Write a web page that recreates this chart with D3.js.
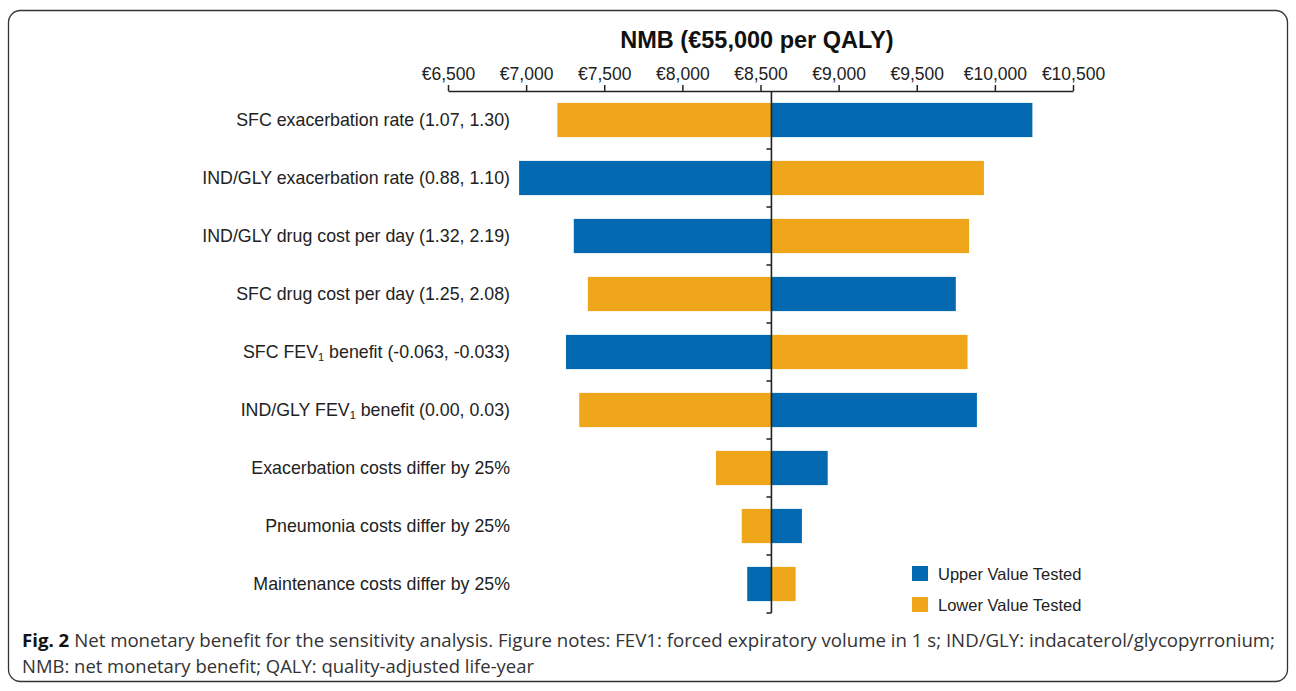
<!DOCTYPE html>
<html>
<head>
<meta charset="utf-8">
<script src="https://cdn.jsdelivr.net/npm/d3@7"></script>
<style>
  body { margin: 0; background: #fff; }
  svg { display: block; }
</style>
</head>
<body>
<script>
// tornado chart data
var categories = [
    "SFC exacerbation rate (1.07, 1.30)",
    "IND/GLY exacerbation rate (0.88, 1.10)",
    "IND/GLY drug cost per day (1.32, 2.19)",
    "SFC drug cost per day (1.25, 2.08)",
    "SFC FEV1 benefit (-0.063, -0.033)",
    "IND/GLY FEV1 benefit (0.00, 0.03)",
    "Exacerbation costs differ by 25%",
    "Pneumonia costs differ by 25%",
    "Maintenance costs differ by 25%"
];
var upperValues = [10240, 6955, 7305, 9750, 7255, 9885, 8930, 8765, 8415];
var lowerValues = [7200, 9930, 9835, 7395, 9825, 7340, 8215, 8380, 8725];
var baseValue = 8570;
var tickValues = [6500, 7000, 7500, 8000, 8500, 9000, 9500, 10000, 10500];
var seriesNames = ["Upper Value Tested", "Lower Value Tested"];

var blue = "#036ab2";
var orange = "#efa61b";
var sans = "'Liberation Sans', Arial, Helvetica, sans-serif";

var width = 1296, height = 691;

var svg = d3.select("body").append("svg")
    .attr("width", width)
    .attr("height", height);

// frame
svg.append("rect")
    .attr("x", 8.5).attr("y", 10.5)
    .attr("width", 1279).attr("height", 671)
    .attr("rx", 12).attr("ry", 12)
    .attr("fill", "none")
    .attr("stroke", "#333")
    .attr("stroke-width", 1.3);

var x = d3.scaleLinear()
    .domain([6500, 10500])
    .range([448, 1073]);

var y = d3.scaleBand()
    .domain(categories)
    .range([91, 613])
    .paddingInner(0.41)
    .paddingOuter(0.205);

var rowStep = y.step();

// title
svg.append("text")
    .attr("x", 757)
    .attr("y", 48)
    .attr("text-anchor", "middle")
    .style("font-family", sans)
    .style("font-weight", "bold")
    .style("font-size", "23.5px")
    .style("fill", "#111")
    .text("NMB (€55,000 per QALY)");

// top axis
var axis = d3.axisTop(x)
    .tickValues(tickValues)
    .tickSize(6)
    .tickSizeOuter(0)
    .tickFormat(function(d) { return "€" + d3.format(",")(d); });

var gAxis = svg.append("g")
    .attr("transform", "translate(0,91)")
    .call(axis);

gAxis.select(".domain").attr("stroke", "#222").attr("stroke-width", 1.5);
gAxis.selectAll(".tick line").attr("stroke", "#222").attr("stroke-width", 1.5);
gAxis.selectAll(".tick text")
    .attr("y", -11)
    .style("font-family", sans)
    .style("font-size", "17.5px")
    .style("fill", "#222");

// bars
var rows = categories.map(function(c, i) {
    return { cat: c, upper: upperValues[i], lower: lowerValues[i] };
});

var barG = svg.append("g");

rows.forEach(function(r) {
    [["upper", blue], ["lower", orange]].forEach(function(s) {
        var v = r[s[0]];
        barG.append("rect")
            .attr("x", x(Math.min(v, baseValue)))
            .attr("y", y(r.cat))
            .attr("width", Math.abs(x(v) - x(baseValue)))
            .attr("height", y.bandwidth())
            .attr("fill", s[1]);
    });
});

// baseline with small left ticks between rows
var xb = x(baseValue);
svg.append("line")
    .attr("x1", xb).attr("x2", xb)
    .attr("y1", 91).attr("y2", 613)
    .attr("stroke", "#222")
    .attr("stroke-width", 1.6);

d3.range(1, categories.length + 1).forEach(function(i) {
    var yy = 91 + i * rowStep;
    svg.append("line")
        .attr("x1", xb - 5).attr("x2", xb)
        .attr("y1", yy).attr("y2", yy)
        .attr("stroke", "#222")
        .attr("stroke-width", 1.5);
});

// category labels, FEV1 gets a subscript
var labels = svg.append("g")
    .style("font-family", sans)
    .style("font-size", "17.8px")
    .style("fill", "#222");

categories.forEach(function(c) {
    var t = labels.append("text")
        .attr("x", 510)
        .attr("y", y(c) + y.bandwidth() / 2 + 6)
        .attr("text-anchor", "end");
    var idx = c.indexOf("FEV1");
    if (idx >= 0) {
        t.append("tspan").text(c.slice(0, idx + 3));
        t.append("tspan").attr("dy", 3).style("font-size", "11px").text("1");
        t.append("tspan").attr("dy", -3).text(c.slice(idx + 4));
    } else {
        t.text(c);
    }
});

// legend
var legend = svg.append("g")
    .style("font-family", sans)
    .style("font-size", "16.5px")
    .style("fill", "#222");

seriesNames.forEach(function(name, i) {
    var ly = 566 + i * 31;
    legend.append("rect")
        .attr("x", 912).attr("y", ly)
        .attr("width", 16).attr("height", 15)
        .attr("fill", i === 0 ? blue : orange);
    legend.append("text")
        .attr("x", 938).attr("y", ly + 14)
        .text(name);
});

// caption
var cap = svg.append("g")
    .style("font-family", "'Open Sans', 'Noto Sans', sans-serif")
    .style("font-size", "17.5px")
    .style("fill", "#333");

var line1 = cap.append("text")
    .attr("x", 22).attr("y", 647)
    .attr("textLength", 1253)
    .attr("lengthAdjust", "spacingAndGlyphs");
line1.append("tspan").style("font-weight", "bold").style("fill", "#111").text("Fig. 2");
line1.append("tspan").text(" Net monetary benefit for the sensitivity analysis. Figure notes: FEV1: forced expiratory volume in 1 s; IND/GLY: indacaterol/glycopyrronium;");

cap.append("text")
    .attr("x", 22).attr("y", 673)
    .attr("textLength", 512)
    .attr("lengthAdjust", "spacingAndGlyphs")
    .text("NMB: net monetary benefit; QALY: quality-adjusted life-year");
</script>
</body>
</html>
